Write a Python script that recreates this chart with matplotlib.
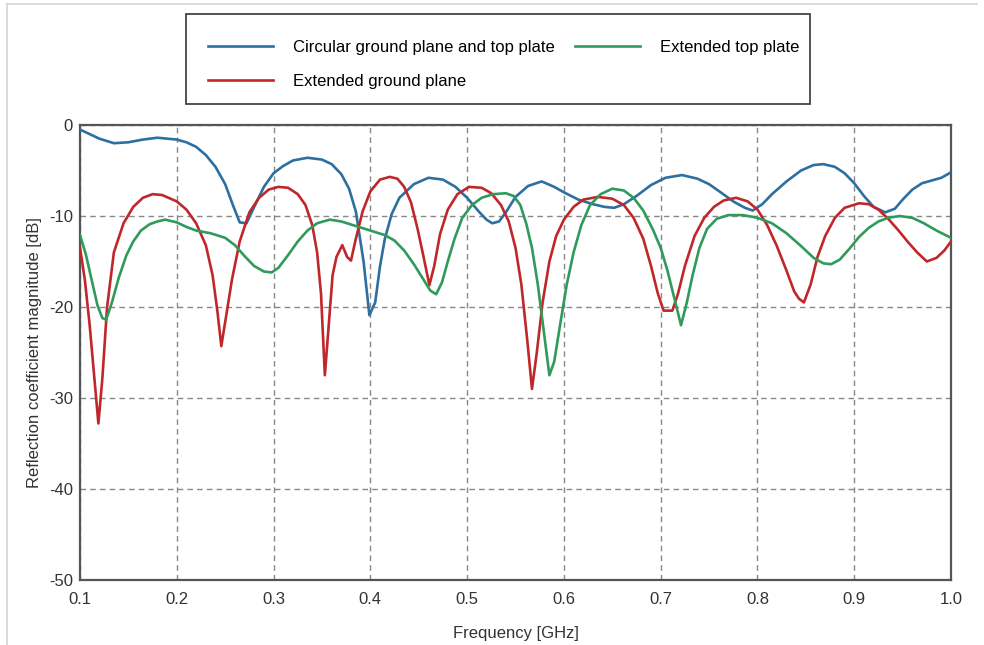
import matplotlib
matplotlib.use("Agg")
import matplotlib.pyplot as plt
from matplotlib.patches import Rectangle
from matplotlib.lines import Line2D

plt.rcParams['font.family'] = ['Liberation Sans', 'DejaVu Sans']

# Circular ground plane and top plate
f_blue = [0.1, 0.11, 0.12, 0.135, 0.15, 0.165, 0.18, 0.2, 0.21, 0.22, 0.23, 0.24, 0.25, 0.258,
          0.265, 0.272, 0.28, 0.29, 0.3, 0.31, 0.32, 0.335, 0.35, 0.36, 0.37, 0.378, 0.385,
          0.393, 0.399, 0.405, 0.41, 0.415, 0.422, 0.43, 0.445, 0.46, 0.475, 0.488, 0.5,
          0.512, 0.52, 0.526, 0.533, 0.54, 0.55, 0.563, 0.577, 0.59, 0.6, 0.615, 0.63, 0.642,
          0.652, 0.662, 0.675, 0.69, 0.705, 0.722, 0.738, 0.75, 0.762, 0.775, 0.787, 0.795,
          0.805, 0.815, 0.83, 0.845, 0.858, 0.868, 0.88, 0.89, 0.9, 0.91, 0.92, 0.932, 0.942,
          0.95, 0.96, 0.97, 0.98, 0.99, 1.0]
s_blue = [-0.5, -1.0, -1.5, -2.0, -1.9, -1.6, -1.4, -1.6, -1.9, -2.4, -3.3, -4.6, -6.5, -8.8,
          -10.7, -10.8, -9.0, -6.8, -5.3, -4.5, -3.9, -3.6, -3.8, -4.3, -5.4, -7.0, -9.5,
          -15.0, -20.9, -19.5, -15.5, -12.5, -9.8, -8.0, -6.5, -5.8, -6.0, -6.8, -8.0,
          -9.5, -10.4, -10.8, -10.6, -9.6, -7.9, -6.7, -6.2, -6.8, -7.4, -8.2, -8.7, -9.0,
          -9.1, -8.7, -7.8, -6.6, -5.8, -5.5, -5.9, -6.5, -7.4, -8.4, -9.1, -9.4,
          -8.7, -7.6, -6.2, -5.0, -4.4, -4.3, -4.6, -5.3, -6.4, -7.8, -9.0, -9.6, -9.2,
          -8.2, -7.1, -6.4, -6.1, -5.8, -5.2]

# Extended ground plane
f_red = [0.1, 0.105, 0.11, 0.115, 0.119, 0.123, 0.128, 0.135, 0.145, 0.155, 0.165, 0.175, 0.185,
         0.2, 0.21, 0.22, 0.23, 0.237, 0.242, 0.246, 0.251, 0.257, 0.265, 0.275, 0.285, 0.295,
         0.305, 0.315, 0.325, 0.333, 0.34, 0.345, 0.349, 0.353, 0.357, 0.361, 0.365, 0.371,
         0.376, 0.38, 0.385, 0.392, 0.4, 0.41, 0.42, 0.428, 0.435, 0.442, 0.449, 0.455,
         0.461, 0.466, 0.472, 0.48, 0.49, 0.502, 0.515, 0.525, 0.535, 0.543, 0.55, 0.556,
         0.562, 0.567, 0.572, 0.578, 0.585, 0.592, 0.6, 0.61, 0.62, 0.635, 0.65, 0.662,
         0.672, 0.682, 0.69, 0.697, 0.703, 0.712, 0.718, 0.725, 0.735, 0.745, 0.755, 0.765,
         0.778, 0.79, 0.8, 0.81, 0.82, 0.83, 0.838, 0.843, 0.848, 0.855, 0.862, 0.87,
         0.88, 0.89, 0.905, 0.915, 0.925, 0.935, 0.945, 0.955, 0.965, 0.975, 0.985, 0.993, 1.0]
s_red = [-13.5, -17.0, -22.0, -28.0, -32.8, -28.0, -20.0, -14.0, -10.8, -9.0, -8.0, -7.6, -7.7,
         -8.4, -9.3, -10.8, -13.2, -16.5, -20.5, -24.3, -21.0, -17.0, -12.8, -9.6, -8.0, -7.1,
         -6.8, -6.9, -7.6, -8.8, -11.0, -14.0, -18.5, -27.5, -22.0, -16.5, -14.5, -13.2,
         -14.5, -14.9, -12.5, -9.5, -7.3, -6.0, -5.7, -5.9, -6.8, -8.5, -11.5, -14.5,
         -17.6, -15.5, -12.0, -9.3, -7.6, -6.8, -6.9, -7.5, -8.8, -10.6, -13.5, -17.5,
         -23.5, -29.0, -25.0, -19.5, -15.0, -12.2, -10.4, -9.0, -8.2, -7.9, -8.1, -8.8,
         -10.2, -12.5, -15.5, -18.5, -20.4, -20.4, -18.5, -15.5, -12.2, -10.2, -9.0, -8.3,
         -8.0, -8.4, -9.3, -11.0, -13.3, -16.0, -18.3, -19.1, -19.5, -17.5, -14.5, -12.2,
         -10.2, -9.1, -8.6, -8.7, -9.3, -10.3, -11.5, -12.8, -14.0, -15.0, -14.6, -13.8, -12.8]

# Extended top plate
f_green = [0.1, 0.106, 0.112, 0.118, 0.123, 0.127, 0.133, 0.14, 0.148, 0.155, 0.163, 0.172,
           0.18, 0.188, 0.2, 0.21, 0.22, 0.235, 0.25, 0.26, 0.27, 0.28, 0.29, 0.298, 0.305,
           0.315, 0.325, 0.335, 0.345, 0.358, 0.37, 0.385, 0.4, 0.415, 0.425, 0.435, 0.445,
           0.455, 0.462, 0.468, 0.474, 0.48, 0.487, 0.495, 0.505, 0.515, 0.527, 0.54, 0.548,
           0.555, 0.561, 0.567, 0.573, 0.579, 0.585, 0.59, 0.596, 0.603, 0.61, 0.618, 0.627,
           0.638, 0.65, 0.662, 0.672, 0.682, 0.692, 0.7, 0.707, 0.714, 0.721, 0.727, 0.733,
           0.74, 0.748, 0.758, 0.77, 0.785, 0.8, 0.815, 0.83, 0.845, 0.858, 0.868, 0.876,
           0.885, 0.895, 0.905, 0.915, 0.925, 0.935, 0.947, 0.96, 0.972, 0.985, 1.0]
s_green = [-12.1, -14.2, -17.0, -19.8, -21.2, -21.4, -19.5, -16.8, -14.3, -12.8, -11.6, -10.9,
           -10.6, -10.4, -10.7, -11.2, -11.6, -11.9, -12.4, -13.2, -14.4, -15.5, -16.1, -16.2,
           -15.7, -14.3, -12.8, -11.6, -10.8, -10.4, -10.6, -11.1, -11.6, -12.1, -12.7, -13.8,
           -15.3, -17.0, -18.2, -18.6, -17.3, -15.0, -12.5, -10.2, -8.8, -8.0, -7.6, -7.5, -7.8,
           -8.8, -10.8, -13.5, -17.5, -22.5, -27.5, -26.0, -22.0, -17.5, -14.0, -11.0, -8.8,
           -7.6, -7.0, -7.2, -8.0, -9.4, -11.5, -13.5, -16.0, -19.0, -22.0, -19.5, -16.5,
           -13.5, -11.4, -10.3, -9.9, -9.9, -10.2, -10.8, -11.9, -13.3, -14.6, -15.2, -15.3,
           -14.8, -13.6, -12.3, -11.3, -10.6, -10.2, -10.0, -10.2, -10.8, -11.6, -12.4]

labels = ["Circular ground plane and top plate", "Extended ground plane", "Extended top plate"]
x_ticks = [0.1, 0.2, 0.3, 0.4, 0.5, 0.6, 0.7, 0.8, 0.9, 1.0]
x_ticklabels = ["0.1", "0.2", "0.3", "0.4", "0.5", "0.6", "0.7", "0.8", "0.9", "1.0"]
y_ticks = [0, -10, -20, -30, -40, -50]
y_ticklabels = ["0", "-10", "-20", "-30", "-40", "-50"]

fig = plt.figure(figsize=(9.84, 6.45), dpi=100)
ax = fig.add_axes([0.0813, 0.1008, 0.8852, 0.7054])

c_blue, c_red, c_green = '#2d6f9f', '#c0272b', '#2f9a5c'
lw = 1.9
l1, = ax.plot(f_blue, s_blue, color=c_blue, lw=lw, zorder=3)
l2, = ax.plot(f_red, s_red, color=c_red, lw=lw, zorder=3)
l3, = ax.plot(f_green, s_green, color=c_green, lw=lw, zorder=3)

ax.set_xlim(0.1, 1.0)
ax.set_ylim(-50, 0)
ax.set_xticks(x_ticks)
ax.set_xticklabels(x_ticklabels)
ax.set_yticks(y_ticks)
ax.set_yticklabels(y_ticklabels)
ax.tick_params(length=0, labelsize=12, colors='#333333', pad=5)
ax.tick_params(axis='x', pad=9)
ax.grid(True, color='#888888', linestyle=(0, (4, 3)), lw=1.0)
for sp in ax.spines.values():
    sp.set_color('#555555')
    sp.set_linewidth(1.6)
ax.set_xlabel("Frequency [GHz]", fontsize=12, color='#333333', labelpad=13)
ax.set_ylabel("Reflection coefficient magnitude [dB]", fontsize=12, color='#333333', labelpad=5)

# legend
fig.legend([l1, l2, l3], labels, ncol=2, loc='upper left',
           bbox_to_anchor=(208 / 984, 1 - 40 / 645), frameon=False, fontsize=12,
           handlelength=3.9, handletextpad=1.2, columnspacing=1.2, labelspacing=1.15,
           borderpad=0.0, borderaxespad=0.0)
fig.patches.append(Rectangle((186 / 984, 1 - 104 / 645), (810 - 186) / 984, 90 / 645,
                             transform=fig.transFigure, fill=False, edgecolor='#444444',
                             lw=1.3, figure=fig))

# light outer border
fig.add_artist(Line2D([7 / 984, 977 / 984], [1 - 4 / 645, 1 - 4 / 645],
                      transform=fig.transFigure, color='#d4d4d4', lw=1.2))
fig.add_artist(Line2D([7 / 984, 7 / 984], [0, 1 - 4 / 645],
                      transform=fig.transFigure, color='#d4d4d4', lw=1.2))

fig.savefig("out.png", dpi=100)
